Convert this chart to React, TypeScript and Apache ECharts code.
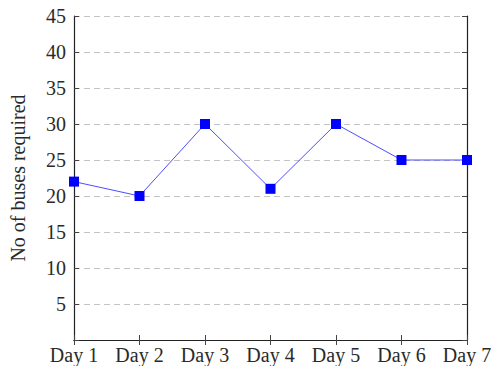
import React, { useEffect, useRef } from "react";
import * as echarts from "echarts";

const categories = ["Day 1", "Day 2", "Day 3", "Day 4", "Day 5", "Day 6", "Day 7"];
const busesRequired = [22, 20, 30, 21, 30, 25, 25];
const yMin = 0;
const yMax = 45;
const yStep = 5;
const yAxisTitle = "No of buses required";

const FONT = "'Liberation Serif', serif";

export default function App() {
  const ref = useRef<HTMLDivElement>(null);
  useEffect(() => {
    if (!ref.current) return;
    const chart = echarts.init(ref.current, null, { renderer: "svg" });
    const axisLine = { show: true, lineStyle: { color: "#222", width: 1.2 } };
    chart.setOption({
      animation: false,
      backgroundColor: "#fff",
      grid: {
        left: 74,
        top: 16,
        width: 393,
        height: 324,
        containLabel: false,
        outerBoundsMode: "none",
      },
      xAxis: [
        {
          type: "category",
          data: categories,
          boundaryGap: false,
          position: "bottom",
          axisLine,
          axisTick: { show: true, inside: true, length: 5, interval: 0, lineStyle: { color: "#444" } },
          axisLabel: {
            color: "#2a2a2a",
            fontFamily: FONT,
            fontSize: 20,
            margin: 5,
            interval: 0,
            hideOverlap: false,
          },
          splitLine: { show: false },
        },
        {
          type: "category",
          data: categories,
          boundaryGap: false,
          position: "top",
          axisLine,
          axisTick: { show: true, inside: true, length: 5, interval: 0, lineStyle: { color: "#444" } },
          axisLabel: { show: false },
          splitLine: { show: false },
        },
      ],
      yAxis: [
        {
          type: "value",
          min: yMin,
          max: yMax,
          interval: yStep,
          position: "left",
          name: yAxisTitle,
          nameLocation: "middle",
          nameRotate: 90,
          nameGap: 46,
          nameTextStyle: { color: "#2a2a2a", fontFamily: FONT, fontSize: 20 },
          axisLine,
          axisTick: { show: true, inside: true, length: 5, lineStyle: { color: "#444" } },
          axisLabel: {
            color: "#2a2a2a",
            fontFamily: FONT,
            fontSize: 20,
            margin: 8,
            formatter: (v: number) => (v === 0 ? "" : String(v)),
          },
          splitLine: { show: true, lineStyle: { color: "#c4c4c4", type: [6, 4], width: 1 } },
        },
        {
          type: "value",
          min: yMin,
          max: yMax,
          interval: yStep,
          position: "right",
          axisLine,
          axisTick: { show: true, inside: true, length: 5, lineStyle: { color: "#444" } },
          axisLabel: { show: false },
          splitLine: { show: false },
        },
      ],
      series: [
        {
          type: "line",
          data: busesRequired,
          xAxisIndex: 0,
          yAxisIndex: 0,
          symbol: "rect",
          symbolSize: 10,
          itemStyle: { color: "#0000ff" },
          lineStyle: { color: "#4d4dff", width: 1 },
          z: 5,
        },
      ],
    });
    return () => chart.dispose();
  }, []);
  return (
    <div
      ref={ref}
      style={{ position: "fixed", left: 0, top: 0, width: 495, height: 366 }}
    />
  );
}
